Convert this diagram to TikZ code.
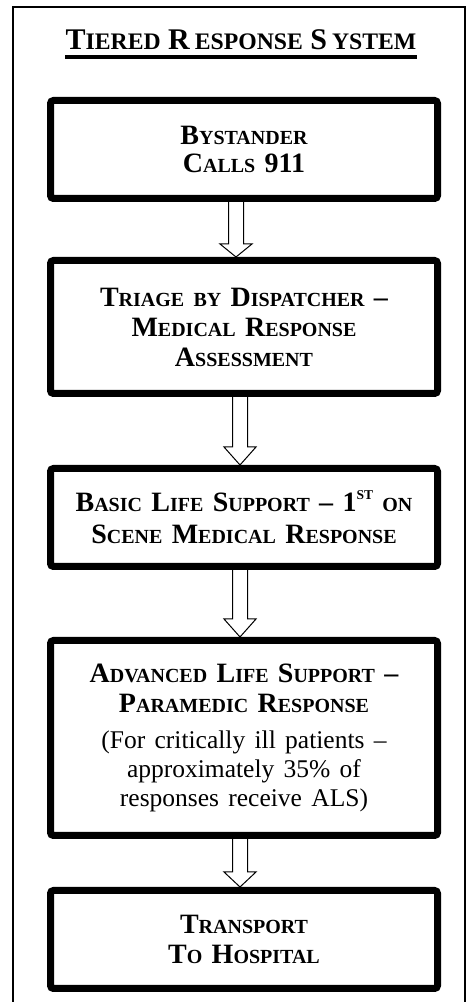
\documentclass[tikz,border=0pt]{standalone}
\usepackage{fontspec}
\setmainfont{Liberation Serif}
\usetikzlibrary{calc}
\newcommand\smc[1]{{\fontsize{20}{30}\selectfont #1}}
\newcommand\tsmc[1]{{\fontsize{23.7}{30}\selectfont #1}}
\newcommand\rgl[1]{{\mdseries\fontsize{25.5}{30}\selectfont #1}}
\newcommand\supst{\raisebox{12pt}{\fontsize{13.5}{14}\selectfont ST}}
\newcommand\hollowarrow[4]{%
  \draw[line width=1pt, line join=miter]
    let \p1=(#1.south), \p2=(#2.north) in
    (\x1+#3-7.5pt,\y1) -- (\x1+#3-7.5pt,\y2+#4) -- (\x1+#3-16pt,\y2+#4)
    -- (\x1+#3,\y2) -- (\x1+#3+16pt,\y2+#4) -- (\x1+#3+7.5pt,\y2+#4)
    -- (\x1+#3+7.5pt,\y1);}
\tikzset{
  stage/.style={draw, line width=7pt, rounded corners=3pt, minimum width=387pt,
    align=center, text width=380pt, inner sep=0pt,
    font=\bfseries\fontsize{28}{30}\selectfont},
  frameline/.style={line width=2pt},
  titletext/.style={inner sep=0pt, anchor=base, font=\bfseries\fontsize{30}{36}\selectfont}
}
\begin{document}
\begin{tikzpicture}[x=1pt,y=1pt]
\useasboundingbox (0,0) rectangle (469,1002);
% outer frame
\coordinate (fbl) at (13,0);
\coordinate (ftl) at (13,995);
\coordinate (ftr) at (465,995);
\coordinate (fbr) at (465,0);
\draw[frameline] (fbl) -- (ftl) -- (ftr) -- (fbr);
% title
\node[titletext] (title) at (241,952) {T\tsmc{IERED} R\kern5pt\tsmc{ESPONSE} S\kern5pt\tsmc{YSTEM}};
\draw[line width=3.5pt] ([yshift=-7pt]title.base west) -- ([yshift=-7pt]title.base east);
% stages
\node[stage, minimum height=98pt] (b1) at (244,852.5)
  {B\smc{YSTANDER}\\[-2pt]C\smc{ALLS} 911};
\node[stage, minimum height=133pt] (b2) at (244,675)
  {T\smc{RIAGE BY} D\smc{ISPATCHER} --\\M\smc{EDICAL} R\smc{ESPONSE}\\A\smc{SSESSMENT}};
\node[stage, minimum height=98pt] (b3) at (244,484.5)
  {B\smc{ASIC} L\smc{IFE} S\smc{UPPORT} -- 1\supst{} \smc{ON}\\[2pt]S\smc{CENE} M\smc{EDICAL} R\smc{ESPONSE}};
\node[stage, minimum height=195pt] (b4) at (244,264)
  {A\smc{DVANCED} L\smc{IFE} S\smc{UPPORT} --\\P\smc{ARAMEDIC} R\smc{ESPONSE}\\[6pt]
   \rgl{(For critically ill patients --}\\[-1pt]\rgl{approximately 35\% of}\\[-1pt]\rgl{responses receive ALS)}};
\node[stage, minimum height=98pt] (b5) at (244,62.5)
  {T\smc{RANSPORT}\\T\smc{O} H\smc{OSPITAL}};
% arrows
\hollowarrow{b1}{b2}{-8pt}{13pt}
\hollowarrow{b2}{b3}{-4pt}{18pt}
\hollowarrow{b3}{b4}{-4pt}{18pt}
\hollowarrow{b4}{b5}{-4pt}{15pt}
\end{tikzpicture}
\end{document}
